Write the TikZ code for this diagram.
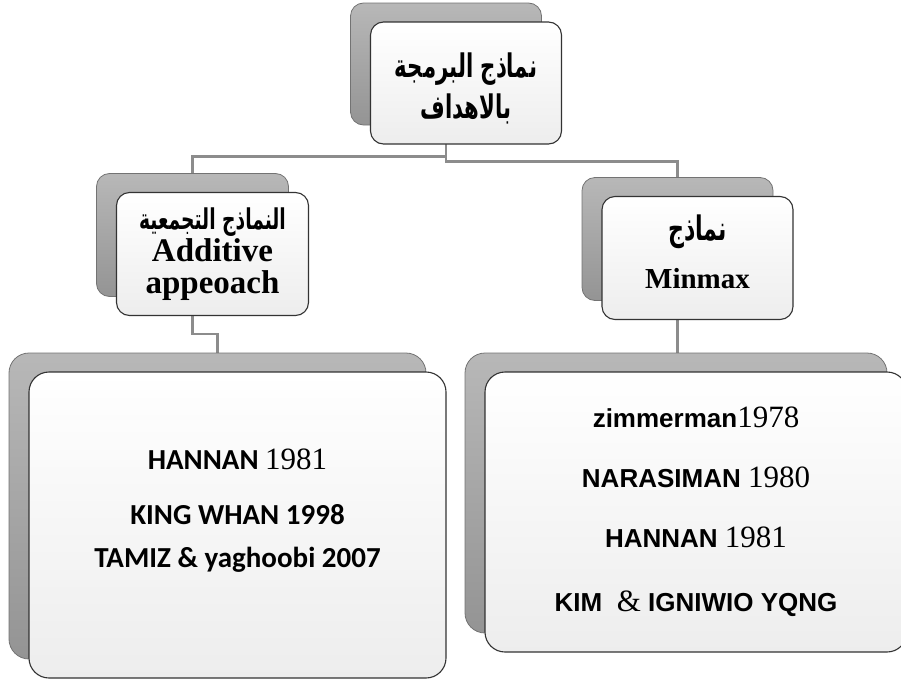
\documentclass[tikz,border=0pt]{standalone}
\usepackage{fontspec}
\setmainfont{Liberation Serif}
\newfontfamily\arabicfont[Script=Arabic]{DejaVu Sans}
\newfontfamily\calibrifont{Carlito}
\newfontfamily\arialfont{Liberation Sans}
\TeXXeTstate=1
\usetikzlibrary{positioning,backgrounds}
\newcommand\yearfont{\rmfamily\mdseries\fontsize{31}{60}\selectfont}
\newcommand\artext[1]{\scalebox{0.85}[1.3]{\beginR #1\endR}}
\tikzset{
    backbox/.style={draw=black!55, line width=0.8pt, top color=black!28, bottom color=black!42, rounded corners=#1},
    backbox/.default=13pt,
    frontbox/.style={draw=black!80, line width=1.1pt, top color=white, bottom color=black!7, rounded corners=#1},
    frontbox/.default=13pt,
    link/.style={draw=black!45, line width=2.6pt},
}
\begin{document}
\begin{tikzpicture}[x=1pt, y=-1pt]
            \useasboundingbox (0, 0) rectangle (901, 680);
            % back boxes
            \node[backbox, minimum width=191pt, minimum height=122pt] (topB) at (446, 64) {};
            \node[backbox, minimum width=192pt, minimum height=123pt] (midLB) at (192.5, 235) {};
            \node[backbox, minimum width=191pt, minimum height=123pt] (midRB) at (677.5, 239) {};
            \node[backbox=20pt, minimum width=417pt, minimum height=306pt] (bigLB) at (217.5, 506) {};
            \node[backbox=20pt, minimum width=422pt, minimum height=280pt] (bigRB) at (676, 493) {};

            % front boxes
            \node[frontbox, minimum width=191pt, minimum height=122pt, align=center,
                  font=\arabicfont\bfseries\fontsize{25}{41}\selectfont]
                (top) at ([shift={(20, 19)}]topB.center) {\rule{0pt}{36pt}\artext{نماذج البرمجة}\\\artext{بالاهداف}};
            \node[frontbox, minimum width=192pt, minimum height=123pt, align=center,
                  font=\bfseries\fontsize{33}{32}\selectfont]
                (midL) at ([shift={(20, 19)}]midLB.center) {{\arabicfont\fontsize{22}{32}\selectfont\artext{النماذج التجمعية}}\\Additive\\appeoach};
            \node[frontbox, minimum width=191pt, minimum height=123pt, align=center,
                  font=\bfseries\fontsize{29}{48}\selectfont]
                (midR) at ([shift={(20, 19)}]midRB.center) {{\arabicfont\fontsize{26}{48}\selectfont\artext{نماذج}}\\Minmax\rule[-12pt]{0pt}{0pt}};
            \node[frontbox=20pt, minimum width=417pt, minimum height=306pt] (bigL) at ([shift={(20, 19)}]bigLB.center) {};
            \node[frontbox=20pt, minimum width=422pt, minimum height=280pt, align=center,
                  font=\arialfont\bfseries\fontsize{26}{60}\selectfont]
                (bigR) at ([shift={(20, 19)}]bigRB.center) {zimmerman{\yearfont 1978}\\NARASIMAN {\yearfont 1980}\\HANNAN {\yearfont 1981}\\[4pt]KIM\ \ {\yearfont\&} IGNIWIO YQNG};
            \node[align=center, font=\calibrifont\bfseries\fontsize{29}{43}\selectfont]
                (bigLtxt) at ([yshift=14pt]bigL.center) {HANNAN {\yearfont 1981}\\[12pt]KING WHAN 1998\\TAMIZ \& yaghoobi 2007};

            % connectors
            \begin{scope}[on background layer]
                \draw[link] (topB.south) -- ++(0, 31) -| (midLB.north);   % top -- left
                \draw[link] (topB.south) -- ++(0, 36) -| (midRB.north);   % top -- right
                \draw[link] (midLB.south) -- ++(0, 37) -| (bigLB.north);  % left -- list
                \draw[link] (midRB.south) -- (midRB.south |- bigRB.north); % right -- list
            \end{scope}
        \end{tikzpicture}
\end{document}
